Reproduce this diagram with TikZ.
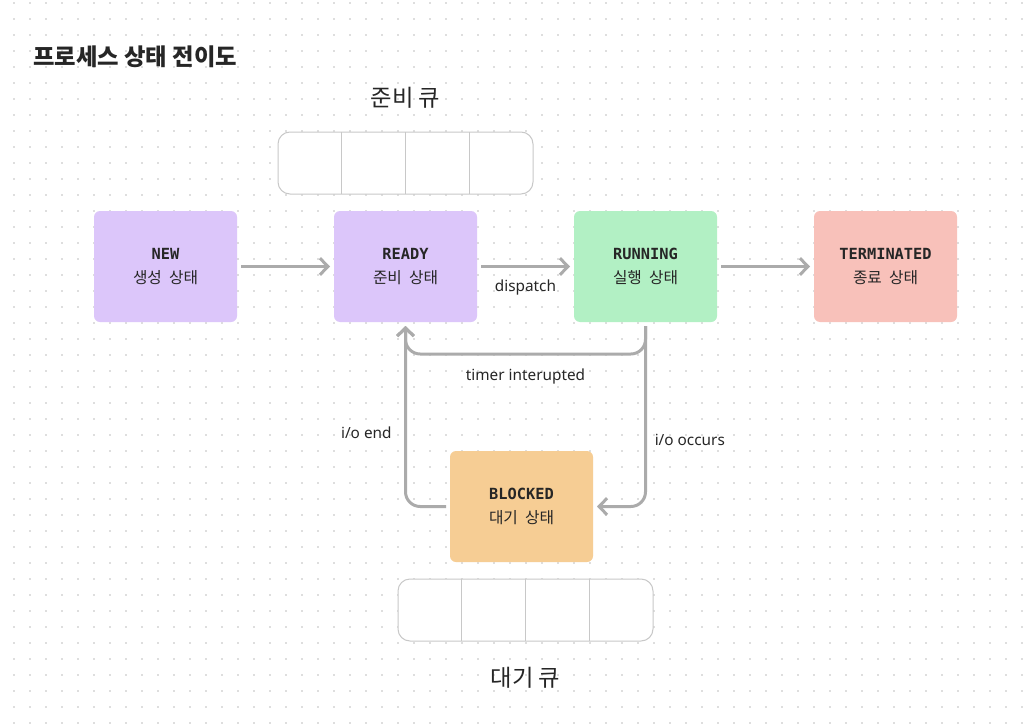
\documentclass[tikz,border=0pt]{standalone}
\usepackage{fontspec}
\setmainfont{Noto Sans CJK KR}
\newfontfamily\statefont{DejaVu Sans Mono}
\newfontfamily\labelfont{Noto Sans}
\usepackage{tikz}
\usetikzlibrary{arrows.meta, positioning, calc}
\definecolor{textdark}{HTML}{262626}
\definecolor{newpurple}{HTML}{DCC6FA}
\definecolor{rungreen}{HTML}{B2F0C4}
\definecolor{termpink}{HTML}{F8C1BA}
\definecolor{blockorange}{HTML}{F6CD94}
\definecolor{arrowgray}{HTML}{ABABAB}
\definecolor{queuegray}{HTML}{C8C8C8}
\definecolor{dotgray}{HTML}{DEDEDE}
\tikzstyle{state} = [rectangle, rounded corners=4.5pt, minimum width=107.25pt, minimum height=83.25pt, text centered, align=center, outer sep=0pt, text=textdark, font=\fontsize{11.8}{18}\selectfont]
\tikzstyle{arrow} = [line width=2.25pt, draw=arrowgray, -{Straight Barb[length=6pt, width=12.5pt]}, shorten <=3pt, shorten >=3pt, rounded corners=11pt]
\tikzstyle{queue} = [rectangle, draw=queuegray, line width=0.75pt, fill=white, rounded corners=9pt, minimum width=191.25pt, minimum height=46.5pt, outer sep=0pt]
\tikzstyle{edgelabel} = [font=\labelfont\fontsize{11.5}{13}\selectfont, text=textdark]
\newcommand{\statename}[1]{{\statefont\bfseries\fontsize{11.5}{18}\selectfont #1}}

\begin{document}
\begin{tikzpicture}[x=0.75pt, y=-0.75pt, node distance=72.75pt]
    \useasboundingbox (0,0) rectangle (1028,724);
    \fill[white] (0,0) rectangle (1028,724);
    % dot grid
    \foreach \i in {0,...,63}
        \foreach \j in {0,...,45}
            \fill[dotgray] ({12.7+16*\i},{1.7+16*\j}) rectangle ++(2,2);

    \node (title) [anchor=west, inner sep=0pt, text=textdark, font=\bfseries\fontsize{17.5}{20}\selectfont] at (33,57) {프로세스 상태 전이도};

    % states
    \node (new) [state, fill=newpurple] at (165.5,266.5) {\statename{NEW}\\생성\hspace{0.45em}상태};
    \node (ready) [state, fill=newpurple, right=of new] {\statename{READY}\\준비\hspace{0.45em}상태};
    \node (running) [state, fill=rungreen, right=of ready] {\statename{RUNNING}\\실행\hspace{0.45em}상태};
    \node (terminated) [state, fill=termpink, right=of running] {\statename{TERMINATED}\\종료\hspace{0.45em}상태};
    \node (blocked) [state, fill=blockorange, below=96.75pt of ready, xshift=87pt] {\statename{BLOCKED}\\대기\hspace{0.45em}상태};

    % queues
    \node (readyq) [queue, above=12.75pt of ready] {};
    \node (waitq) [queue, below=12.75pt of blocked, xshift=3pt] {};
    \foreach \q in {readyq, waitq}
        \foreach \k in {1,2,3}
            \draw[queuegray, line width=0.75pt] ($(\q.north west)!\k/4!(\q.north east)$) -- ($(\q.south west)!\k/4!(\q.south east)$);
    \node (readyqlabel) [above=14pt of readyq, text=textdark, font=\fontsize{17.5}{19}\selectfont] {준비 큐};
    \node (waitqlabel) [below=16pt of waitq, text=textdark, font=\fontsize{17.5}{19}\selectfont] {대기 큐};

    % transitions
    \draw [arrow] (new) -- (ready);
    \draw [arrow] (ready) -- node[edgelabel, below=5.5pt] {dispatch} (running);
    \draw [arrow] (running) -- (terminated);
    \draw [arrow] (running.south) -- ++(0,32) -| node[edgelabel, pos=0.25, below=6.5pt] {timer interupted} (ready.south);
    \draw [arrow] (running.south) |- node[edgelabel, pos=0.32, right=2.5pt] {i/o occurs} (blocked.east);
    \draw [arrow] (blocked.west) -| node[edgelabel, pos=0.7, left=6pt] {i/o end} (ready.south);
\end{tikzpicture}
\end{document}
